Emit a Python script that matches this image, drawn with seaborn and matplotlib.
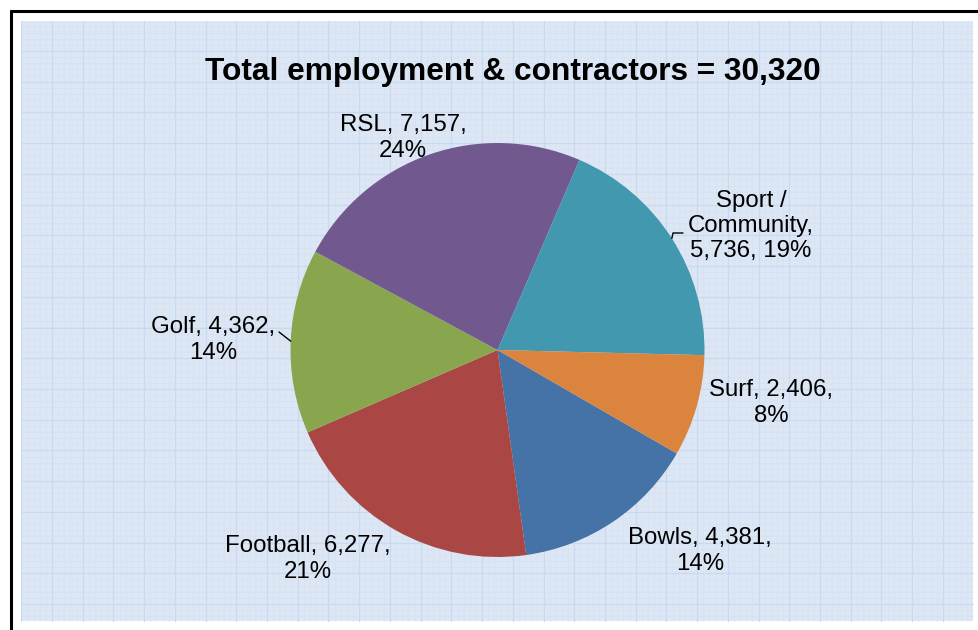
import numpy as np
import matplotlib
matplotlib.use("Agg")
import matplotlib.pyplot as plt
from matplotlib.patches import Rectangle
import seaborn as sns

# Employment and contractors by club type
categories = ["Bowls", "Football", "Golf", "RSL", "Sport / Community", "Surf"]
employees = [4381, 6277, 4362, 7157, 5736, 2406]
total_reported = 30320
slice_colors = ["#4572A7", "#AA4643", "#89A54E", "#71588F", "#4198AF", "#DB843D"]

two_line = "{name}, {value},\n{pct}%"
three_line = "{name},\n{value}, {pct}%"
label_formats = [two_line, two_line, two_line, two_line, three_line, two_line]

sns.set_theme(style="white")
plt.rcParams["font.family"] = ["Liberation Sans", "DejaVu Sans"]
palette = sns.color_palette(slice_colors)

W, H = 979, 630
fig = plt.figure(figsize=(W / 100, H / 100), dpi=100)
fig.patch.set_facecolor("white")
ax = fig.add_axes([0, 0, 1, 1])


def Y(y):
    """Convert a top-down pixel row into the upward data coordinate."""
    return H - y


# plot area: pale blue with a fine graph-paper grid
left, top, right, bottom = 21, 21, 973, 621
ax.add_patch(Rectangle((left, Y(bottom)), right - left, bottom - top,
                       facecolor="#DCE6F4", edgecolor="none", zorder=0))
step = 30.72
minor_col, major_col = "#D5E1F2", "#C8DAF1"
for x in np.arange(left + 0.3, right, step / 5):
    ax.plot([x, x], [Y(top), Y(bottom)], color=minor_col, lw=0.4, zorder=0.5)
for y in np.arange(top - 0.7 + step / 5, bottom, step / 5):
    ax.plot([left, right], [Y(y), Y(y)], color=minor_col, lw=0.4, zorder=0.5)
for x in np.arange(left + 0.3, right, step):
    ax.plot([x, x], [Y(top), Y(bottom)], color=major_col, lw=0.8, zorder=0.6)
for y in np.arange(top - 0.7 + step, bottom, step):
    ax.plot([left, right], [Y(y), Y(y)], color=major_col, lw=0.8, zorder=0.6)

# outer chart frame
ax.plot([11.5, 11.5], [Y(10.5), -5], color="black", lw=2.2, zorder=1)
ax.plot([11.5, W + 5], [Y(10.5), Y(10.5)], color="black", lw=2.2, zorder=1)

# pie
cx, cy, r = 497.5, Y(350), 207
start = -30
wedges, _ = ax.pie(employees, colors=palette, startangle=start, counterclock=False,
                   center=(cx, cy), radius=r, frame=True,
                   wedgeprops=dict(linewidth=0, antialiased=True))
for w in wedges:
    w.set_zorder(2)

ax.set_xlim(0, W)
ax.set_ylim(0, H)
ax.axis("off")

total = sum(employees)
label_centers = [(700, 551), (308, 559), (213, 340), (403, 138), (751, 226), (771, 403)]
for name, val, fmt, (lx, ly) in zip(categories, employees, label_formats, label_centers):
    pct = round(100 * val / total)
    text = fmt.format(name=name.replace(" / ", " /\n"), value=f"{val:,}", pct=pct)
    ax.text(lx, Y(ly), text, ha="center", va="center", fontsize=17.3,
            linespacing=1.18, color="black", zorder=3)

# leader lines for the two labels set off from their slices
mids = {}
for name, w in zip(categories, wedges):
    ang = np.deg2rad((w.theta1 + w.theta2) / 2)
    mids[name] = (cx + r * np.cos(ang), cy + r * np.sin(ang))

sx, sy = mids["Sport / Community"]
ax.plot([sx, 673, 683], [sy, Y(233), Y(233)], color="black", lw=1, zorder=3)
gx, gy = mids["Golf"]
ax.plot([gx, 279], [gy, Y(332)], color="black", lw=1, zorder=3)

ax.text(513, Y(80), f"Total employment & contractors = {total_reported:,}",
        ha="center", va="baseline", fontsize=22.8, fontweight="bold",
        color="black", zorder=3)

fig.savefig("out.png", dpi=100, facecolor=fig.get_facecolor())
